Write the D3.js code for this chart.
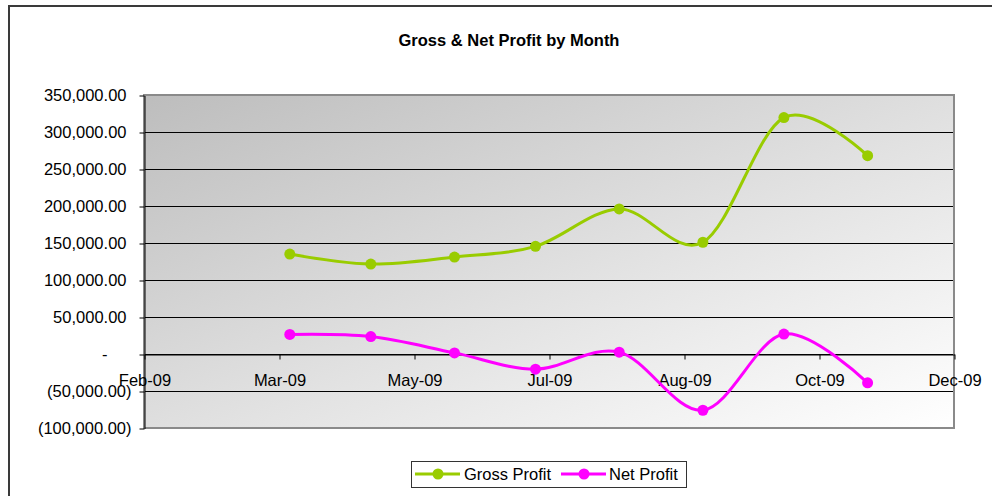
<!DOCTYPE html>
<html>
<head>
<meta charset="utf-8">
<script src="https://cdn.jsdelivr.net/npm/d3@7"></script>
<style>
  body { margin: 0; background: #fff; }
  text { font-family: "Liberation Sans", Arial, sans-serif; fill: #000; }
</style>
</head>
<body>
<div id="chart"></div>
<script>
// data (first day of each month, 2009)
const months = ["2009-04-01", "2009-05-01", "2009-06-01", "2009-07-01",
                "2009-08-01", "2009-09-01", "2009-10-01", "2009-11-01"];
const grossProfit = [135000, 121500, 131000, 145500, 196000, 151000, 319500, 268000];
const netProfit = [26500, 23500, 1500, -20500, 2500, -76000, 27000, -39000];
const yTicks = [-100000, -50000, 0, 50000, 100000, 150000, 200000, 250000, 300000, 350000];
const xTickDates = ["2009-02-06", "2009-03-28", "2009-05-17", "2009-07-06",
                    "2009-08-25", "2009-10-14", "2009-12-03"];

const series = [
  { name: "Gross Profit", values: grossProfit, color: "#99cc00" },
  { name: "Net Profit", values: netProfit, color: "#ff00ff" }
];

const W = 992, H = 496;
const plotLeft = 144, plotRight = 954, plotTop = 95, plotBottom = 428;

function parseDay(s) {
  let p = s.split("-").map(Number);
  return new Date(Date.UTC(p[0], p[1] - 1, p[2]));
}

function yLabel(v) {
  if (v === 0) return "-";
  let f = d3.format(",.2f");
  return v < 0 ? "(" + f(-v) + ")" : f(v);
}

const svg = d3.select("#chart")
  .append("svg")
  .attr("width", W)
  .attr("height", H);

// chart frame
svg.append("path")
  .attr("d", "M9,497 V6 H993")
  .attr("fill", "none")
  .attr("stroke", "#3a3a3a")
  .attr("stroke-width", 2);

svg.append("text")
  .attr("x", 509)
  .attr("y", 46)
  .attr("text-anchor", "middle")
  .style("font-size", "16.5px")
  .style("font-weight", "bold")
  .text("Gross & Net Profit by Month");

const x = d3.scaleUtc()
  .domain([parseDay(xTickDates[0]), parseDay(xTickDates[xTickDates.length - 1])])
  .range([plotLeft, plotRight]);

const y = d3.scaleLinear()
  .domain([-100000, 350000])
  .range([plotBottom, plotTop]);

// plot background
let grad = svg.append("defs")
  .append("linearGradient")
  .attr("id", "bg")
  .attr("x1", 0).attr("y1", 0)
  .attr("x2", 1).attr("y2", 1);
grad.append("stop").attr("offset", "0%").attr("stop-color", "#bdbdbd");
grad.append("stop").attr("offset", "55%").attr("stop-color", "#e2e2e2");
grad.append("stop").attr("offset", "100%").attr("stop-color", "#ffffff");

svg.append("rect")
  .attr("x", plotLeft)
  .attr("y", plotTop)
  .attr("width", plotRight - plotLeft)
  .attr("height", plotBottom - plotTop)
  .attr("fill", "url(#bg)");

// gridlines
svg.append("g")
  .selectAll("line")
  .data(yTicks.filter(d => d !== 350000 && d !== -100000))
  .join("line")
  .attr("x1", plotLeft)
  .attr("x2", plotRight)
  .attr("y1", d => Math.round(y(d)) + 0.5)
  .attr("y2", d => Math.round(y(d)) + 0.5)
  .attr("stroke", "#000")
  .attr("stroke-width", 1);

svg.append("rect")
  .attr("x", plotLeft)
  .attr("y", plotTop)
  .attr("width", plotRight - plotLeft)
  .attr("height", plotBottom - plotTop)
  .attr("fill", "none")
  .attr("stroke", "#8a8a8a")
  .attr("stroke-width", 2);

// y axis
let yAxis = svg.append("g")
  .attr("transform", "translate(" + (plotLeft + 0.5) + ",0.5)")
  .call(d3.axisLeft(y).tickValues(yTicks).tickSize(5).tickSizeOuter(0).tickFormat(yLabel));
yAxis.select(".domain").attr("stroke", "#000");
yAxis.selectAll("text")
  .style("font-size", "16.5px")
  .attr("x", d => d < 0 ? -13 : (d === 0 ? -37 : -18));

// x axis at zero
let xAxis = svg.append("g")
  .attr("transform", "translate(0.5," + (Math.round(y(0)) + 0.5) + ")")
  .call(d3.axisBottom(x)
    .tickValues(xTickDates.map(parseDay))
    .tickSize(5)
    .tickSizeOuter(0)
    .tickFormat(d3.utcFormat("%b-%y")));
xAxis.select(".domain").attr("stroke", "#000");
xAxis.selectAll("text")
  .style("font-size", "16.5px")
  .attr("y", 20);

// lines and markers
const dates = months.map(parseDay);
series.forEach(s => {
  let pts = s.values.map((v, i) => [x(dates[i]), y(v)]);

  svg.append("path")
    .datum(pts)
    .attr("fill", "none")
    .attr("stroke", s.color)
    .attr("stroke-width", 3)
    .attr("d", d3.line().curve(d3.curveCardinal.tension(0)));

  svg.append("g")
    .selectAll("circle")
    .data(pts)
    .join("circle")
    .attr("cx", d => d[0])
    .attr("cy", d => d[1])
    .attr("r", 5.5)
    .attr("fill", s.color);
});

// legend
let legend = svg.append("g");
legend.append("rect")
  .attr("x", 411.5)
  .attr("y", 461.5)
  .attr("width", 275)
  .attr("height", 26)
  .attr("fill", "#fff")
  .attr("stroke", "#333");

const legendPos = [{ x0: 415, text: 464 }, { x0: 561, text: 609 }];
series.forEach((s, i) => {
  let p = legendPos[i];
  legend.append("line")
    .attr("x1", p.x0).attr("x2", p.x0 + 45)
    .attr("y1", 474).attr("y2", 474)
    .attr("stroke", s.color)
    .attr("stroke-width", 3);
  legend.append("circle")
    .attr("cx", p.x0 + 23)
    .attr("cy", 474)
    .attr("r", 5.5)
    .attr("fill", s.color);
  legend.append("text")
    .attr("x", p.text)
    .attr("y", 480)
    .style("font-size", "16.5px")
    .text(s.name);
});
</script>
</body>
</html>
